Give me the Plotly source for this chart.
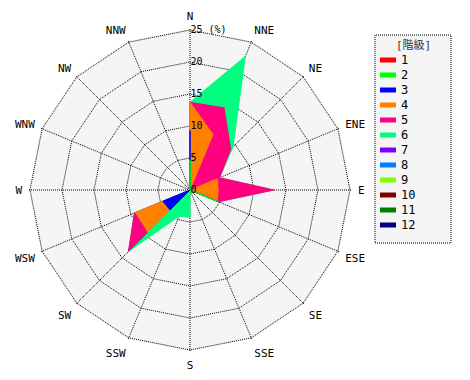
import numpy as np
import plotly.graph_objects as go

# ---- data ----
directions = ["N", "NNE", "NE", "ENE", "E", "ESE", "SE", "SSE",
              "S", "SSW", "SW", "WSW", "W", "WNW", "NW", "NNW"]
classes = ["1", "2", "3", "4", "5", "6", "7", "8", "9", "10", "11", "12"]
colors = ["#ff0000", "#00ff00", "#0000ff", "#ff8000", "#ff0080", "#00ff80",
          "#8000ff", "#0080ff", "#80ff00", "#800000", "#008000", "#000080"]

#            N    NNE  NE   ENE  E    ESE  SE   SSE  S    SSW  SW   WSW  W    WNW  NW   NNW
c1  = [0.0, 0.0, 0.0, 0.0, 0.0, 0.0, 0.0, 0.0, 0.0, 0.0, 0.0, 0.0, 0.0, 0.0, 0.0, 0.0]
c2  = [4.7, 0.0, 0.0, 0.0, 0.0, 4.5, 0.0, 0.0, 0.0, 0.0, 0.0, 0.0, 0.0, 0.0, 0.0, 0.0]
c3  = [4.6, 0.0, 0.0, 0.0, 0.0, 0.0, 0.0, 0.0, 0.0, 0.0, 4.4, 4.6, 0.0, 0.0, 0.0, 0.0]
c4  = [4.4, 9.4, 0.0, 4.6, 4.4, 0.1, 0.0, 0.0, 0.0, 0.0, 4.9, 4.6, 0.0, 0.0, 0.0, 0.0]
c5  = [0.0, 4.5, 9.0, 0.4, 8.7, 0.2, 0.0, 0.0, 0.0, 0.0, 4.3, 0.2, 0.0, 0.0, 0.0, 0.0]
c6  = [0.0, 8.7, 0.5, 0.0, 0.0, 0.0, 0.0, 0.0, 4.3, 4.4, 0.0, 0.0, 0.0, 0.0, 0.0, 0.0]
c7  = [0.0] * 16
c8  = [0.0] * 16
c9  = [0.0] * 16
c10 = [0.0] * 16
c11 = [0.0] * 16
c12 = [0.0] * 16

values = [c1, c2, c3, c4, c5, c6, c7, c8, c9, c10, c11, c12]
radial_ticks = [0, 5, 10, 15, 20, 25]
radial_labels = ["0", "5", "10", "15", "20", "25 (%)"]
legend_title = "[階級]"

# page body has an 8px margin, so the figure is laid out 8px smaller/shifted
OFF = 8
W, H = 470 - OFF, 380 - OFF
FONT = "DejaVu Sans Mono, Noto Sans CJK JP, monospace"
DOT = "1px,1px"
RMAX = 25.2  # a hair above 25 so the outer 25% ring gets drawn

cum = np.cumsum(np.array(values), axis=0)

fig = go.Figure()
# draw highest class (largest cumulative) first so smaller ones sit on top
for k in range(len(classes) - 1, -1, -1):
    if not np.any(np.array(values[k]) > 0):
        continue
    r = list(cum[k]) + [cum[k][0]]
    th = directions + [directions[0]]
    fig.add_trace(go.Scatterpolar(
        r=r, theta=th, mode="lines", fill="toself",
        fillcolor=colors[k], line=dict(color=colors[k], width=1),
        name=classes[k], showlegend=False, hoverinfo="skip"))


def px(x):
    return (x - OFF) / W


def py(y):
    return 1 - (y - OFF) / H


cx, cy = 190, 190
rad = 160 * RMAX / 25
fig.update_layout(
    width=W, height=H,
    margin=dict(l=0, r=0, t=0, b=0),
    paper_bgcolor="white",
    showlegend=False,
    font=dict(family=FONT, size=11, color="black"),
    polar=dict(
        domain=dict(x=[px(cx - rad), px(cx + rad)], y=[py(cy + rad), py(cy - rad)]),
        bgcolor="#f5f5f5",
        gridshape="linear",
        angularaxis=dict(
            type="category", categoryarray=directions,
            direction="clockwise", rotation=90,
            showline=False, ticks="outside", ticklen=4,
            tickcolor="rgba(0,0,0,0)",
            showgrid=True, gridcolor="black", griddash=DOT, gridwidth=1,
            tickfont=dict(family=FONT, size=11, color="black"),
        ),
        radialaxis=dict(
            range=[0, RMAX], angle=90, tickangle=90,
            tickvals=radial_ticks, ticktext=radial_labels,
            showline=False, ticks="",
            showgrid=True, gridcolor="black", griddash=DOT, gridwidth=1,
            tickfont=dict(family=FONT, size=10, color="black"),
        ),
    ),
)

# ---- legend drawn by hand (compact spacing like the original) ----
box_x0, box_x1, box_y0, box_y1 = 375, 451, 35, 243
fig.add_shape(type="rect", xref="paper", yref="paper",
              x0=px(box_x0), x1=px(box_x1), y0=py(box_y1), y1=py(box_y0),
              line=dict(color="black", width=1, dash=DOT),
              fillcolor="#f5f5f5", layer="below")
fig.add_annotation(x=px(413), y=py(45), xref="paper", yref="paper",
                   text=legend_title, showarrow=False,
                   font=dict(family=FONT, size=11, color="#333333"),
                   xanchor="center", yanchor="middle")
for i, (name, col) in enumerate(zip(classes, colors)):
    yy = 60 + 15 * i
    fig.add_shape(type="line", xref="paper", yref="paper",
                  x0=px(380), x1=px(396), y0=py(yy), y1=py(yy),
                  line=dict(color=col, width=5))
    fig.add_annotation(x=px(399), y=py(yy), xref="paper", yref="paper",
                       text=name, showarrow=False,
                       font=dict(family=FONT, size=12, color="black"),
                       xanchor="left", yanchor="middle")

fig.write_html("out.html")
